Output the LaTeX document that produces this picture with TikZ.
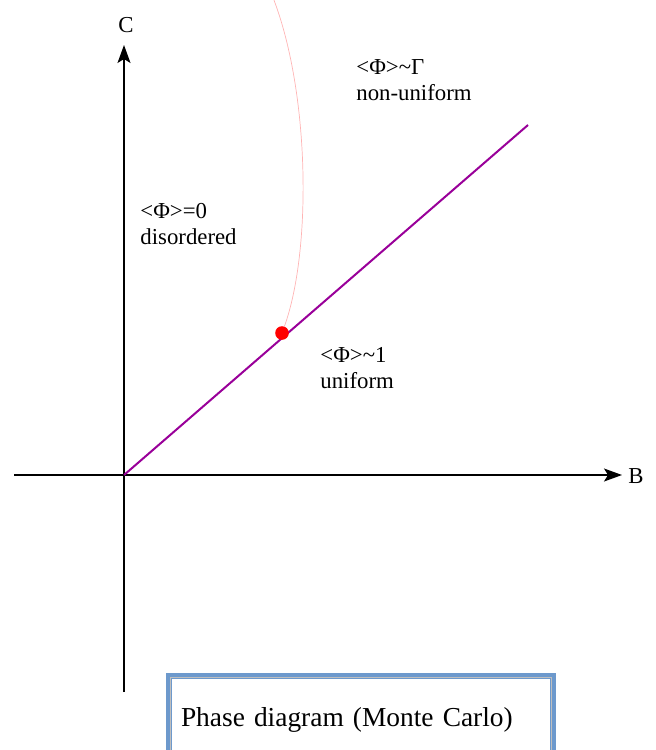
\documentclass[tikz,border=0pt]{standalone}
\usepackage{fontspec}
\setmainfont{Liberation Serif}
\usepackage{tikz}
\usetikzlibrary{arrows.meta}
\definecolor{linepurple}{HTML}{990099}
\definecolor{curvepink}{HTML}{FFB4B4}
\definecolor{boxblue}{HTML}{6D99CC}
\tikzset{
	axis/.style={line width=0.6pt,-{Stealth[length=9pt,width=6.5pt,inset=2pt]}},
	label/.style={inner sep=0pt,align=left,font=\fontsize{11.4}{13}\selectfont},
	critical/.style={circle,fill=red,inner sep=0pt,minimum size=6.8pt}
}

\begin{document}
\begin{tikzpicture}[x=0.5pt,y=-0.5pt]
	\useasboundingbox (0,0) rectangle (655,750);
	\clip (0,0) rectangle (655,750);
	\coordinate (O) at (124,475);
	\coordinate (xl) at (14,475);
	\coordinate (xr) at (622,475);
	\coordinate (yb) at (124,692);
	\coordinate (yt) at (124,45);
	\coordinate (end) at (528,125);
	\coordinate (top) at (272,-5);
	% axes
	\draw[axis] (xl) -- (xr);
	\draw[axis] (yb) -- (yt);
	\node[label] (B) at (636,476) {B};
	\node[label] (C) at (126,25) {C};
	% transition lines
	\draw[linepurple,line width=1pt] (O) -- (end);
	\node[critical] (crit) at (282,333) {};
	\draw[curvepink,line width=0.35pt] (crit) .. controls (312,250) and (310,90) .. (top);
	% phases
	\node[label,anchor=west] (dis) at (140,224) {<Φ>=0\\disordered};
	\node[label,anchor=west] (nonu) at (356,80) {<Φ>\textasciitilde Γ\\non-uniform};
	\node[label,anchor=west] (uni) at (320,368) {<Φ>\textasciitilde 1\\uniform};
	\node[label,draw=boxblue,line width=3pt,anchor=north west,minimum width=192pt,
		minimum height=44pt,text width=180pt,inner xsep=6pt,
		font=\fontsize{13.7}{16}\selectfont] (title) at (166,673)
		{Phase diagram (Monte Carlo)};
	\draw[gray!50,line width=0.3pt] ([shift={(4.3,4.3)}]title.north west) -- ([shift={(-4.3,4.3)}]title.north east)
		-- ([shift={(-4.3,0)}]title.south east);
	\draw[gray!50,line width=0.3pt] ([shift={(4.3,4.3)}]title.north west) -- ([shift={(4.3,0)}]title.south west);
\end{tikzpicture}
\end{document}
